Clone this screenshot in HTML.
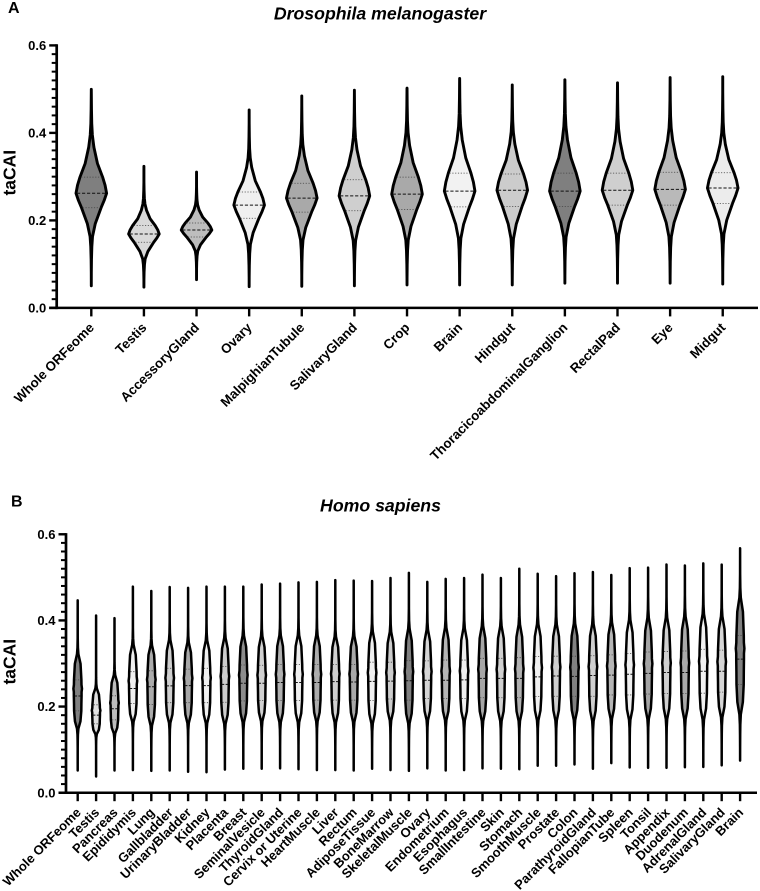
<!DOCTYPE html>
<html lang="en">
<head>
<meta charset="utf-8">
<title>taCAI violin plots</title>
<style>
html,body{margin:0;padding:0;background:#fff;}
svg{display:block;font-family:"Liberation Sans",Arial,sans-serif;}
</style>
</head>
<body>
<svg id="chart" xmlns="http://www.w3.org/2000/svg" width="760" height="891" viewBox="0 0 760 891">
  <rect x="0" y="0" width="760" height="891" fill="#fff"/>
  <text x="8" y="12.8" font-size="16" font-weight="700">A</text>
  <text x="380" y="19.3" font-size="17.7" font-weight="700" font-style="italic" text-anchor="middle">Drosophila melanogaster</text>
  <text x="11" y="506.5" font-size="16" font-weight="700">B</text>
  <text x="380.5" y="511.7" font-size="17.7" font-weight="700" font-style="italic" text-anchor="middle">Homo sapiens</text>
  <g id="panel-a"></g>
  <g id="panel-b"></g>
</svg>
<script>
/* ---------- Panel A data: Drosophila melanogaster ---------- */
const categoriesA = ["Whole ORFeome","Testis","AccessoryGland","Ovary","MalpighianTubule","SalivaryGland","Crop","Brain","Hindgut","ThoracicoabdominalGanglion","RectalPad","Eye","Midgut"];
const minsA    = [.048,.045,.062,.046,.047,.048,.050,.050,.050,.054,.054,.054,.052];
const q1sA     = [.229,.150,.162,.205,.219,.222,.225,.231,.232,.232,.235,.235,.239];
const mediansA = [.262,.169,.178,.235,.251,.256,.260,.267,.269,.267,.269,.271,.274];
const q3sA     = [.299,.188,.194,.265,.285,.293,.299,.308,.306,.308,.308,.310,.309];
const maxsA    = [.502,.326,.313,.455,.487,.500,.505,.527,.512,.521,.517,.529,.531];
const greysA   = ["#7f7f7f","#d9d9d9","#bdbdbd","#f0f0f0","#a9a9a9","#cfcfcf","#a9a9a9","#f2f2f2","#cccccc","#7f7f7f","#cfcfcf","#b9b9b9","#ececec"];

/* ---------- Panel B data: Homo sapiens ---------- */
const categoriesB = ["Whole ORFeome","Testis","Pancreas","Epididymis","Lung","Gallbladder","UrinaryBladder","Kidney","Placenta","Breast","SeminalVesicle","ThyroidGland","Cervix or Uterine","HeartMuscle","Liver","Rectum","AdiposeTissue","BoneMarrow","SkeletalMuscle","Ovary","Endometrium","Esophagus","SmallIntestine","Skin","Stomach","SmoothMuscle","Prostate","Colon","ParathyroidGland","FallopianTube","Spleen","Tonsil","Appendix","Duodenum","AdrenalGland","SalivaryGland","Brain"];
const minsB    = [.049,.035,.049,.050,.048,.049,.046,.045,.051,.053,.053,.054,.052,.050,.050,.049,.053,.050,.048,.054,.049,.050,.054,.053,.052,.060,.060,.063,.053,.066,.056,.055,.055,.0565,.057,.061,.072];
const q1sB     = [.190,.160,.169,.207,.205,.209,.209,.209,.210,.213,.214,.214,.214,.215,.215,.215,.214,.2175,.215,.219,.219,.219,.2205,.2205,.2206,.223,.224,.224,.224,.227,.227,.229,.230,.230,.231,.2335,.2515];
const mediansB = [.2245,.180,.195,.242,.246,.248,.2485,.2485,.2516,.254,.254,.256,.256,.256,.258,.257,.2585,.259,.260,.261,.261,.262,.2655,.2655,.2655,.269,.271,.270,.272,.273,.275,.277,.279,.279,.282,.282,.310];
const q3sB     = [.262,.204,.225,.281,.283,.289,.287,.289,.293,.2965,.296,.298,.298,.298,.298,.298,.303,.303,.3065,.306,.308,.308,.312,.312,.3135,.316,.317,.317,.318,.320,.3235,.3266,.328,.329,.333,.331,.365];
const maxsB    = [.449,.414,.408,.481,.471,.480,.478,.481,.481,.481,.486,.488,.491,.492,.496,.495,.494,.501,.513,.492,.499,.501,.509,.501,.5225,.511,.5055,.512,.515,.508,.524,.525,.5325,.530,.535,.532,.570];
const greysB   = ["#808080","#e0e0e0","#bdbdbd","#efefef","#ababab","#cfcfcf","#a8a8a8","#f0f0f0","#cdcdcd","#8c8c8c","#d0d0d0","#b0b0b0","#eeeeee","#acacac","#d0d0d0","#a8a8a8","#f0f0f0","#cccccc","#808080","#d5d5d5","#b5b5b5","#eeeeee","#a6a6a6","#d0d0d0","#b0b0b0","#f0f0f0","#cfcfcf","#808080","#cfcfcf","#b5b5b5","#f0f0f0","#a5a5a5","#d0d0d0","#aaaaaa","#f2f2f2","#d5d5d5","#808080"];

/* ---------- Density silhouettes (distance from median in quartile units -> relative density) ---------- */
const upperDistA  = [0,.5,1,1.85,2.85,3.6,4.3,5.2,6.2];
const upperDensA  = [1,.9,.74,.4,.17,.07,.03,.012,.002];
const lowerDistA  = [0,.5,1,2.1,3,3.7,4.6,5.5];
const lowerDensA  = [1,.84,.64,.26,.08,.035,.012,.002];
const upperDistB  = [0,.25,.45,.7,1,2,2.6,3,3.6];
const upperDensB  = [.9,.9,1,.88,.86,.66,.16,.05,.01];
const lowerDistB  = [0,.5,1,1.7,2.2,2.6,3,3.5];
const lowerDensB  = [.9,.86,.84,.64,.16,.05,.02,.004];

const tickValues = [0,.2,.4,.6];
const tickLabels = ["0.0","0.2","0.4","0.6"];
const minorStep = .02;

const NS = "http://www.w3.org/2000/svg";
function mk(parent, tag, attrs){
  const el = document.createElementNS(NS, tag);
  for (const k in attrs) el.setAttribute(k, attrs[k]);
  parent.appendChild(el);
  return el;
}
function interp(xs, ys, x){
  if (x <= xs[0]) return ys[0];
  for (let i = 1; i < xs.length; i++){
    if (x <= xs[i]) return ys[i-1] + (ys[i]-ys[i-1]) * (x-xs[i-1]) / (xs[i]-xs[i-1]);
  }
  return 0;
}
function drawPanel(root, p){
  const xOf = i => p.x0 + i * p.step;
  const yOf = v => p.yZero - v * p.yScale;

  const yAxis = mk(root, "line", {x1:p.axisX, x2:p.axisX, y1:yOf(.6)-1.2, y2:yOf(0)+1.2, stroke:"#000", "stroke-width":2.7});
  
  
  const xAxis = mk(root, "line", {x1:p.axisX-7.5, x2:p.axisEnd, y1:yOf(0), y2:yOf(0), stroke:"#000", "stroke-width":2.5});
  
  

  for (let k = 1; k < 30; k++){
    if (k % 10 === 0) continue;
    const t = mk(root, "line", {x1:p.axisX-5, x2:p.axisX, y1:yOf(k*minorStep), y2:yOf(k*minorStep), stroke:"#000", "stroke-width":2});
    
    
  }
  tickValues.forEach((v, k) => {
    const t = mk(root, "line", {x1:p.axisX-7.5, x2:p.axisX, y1:yOf(v), y2:yOf(v), stroke:"#000", "stroke-width":2.4});
    
    
    const l = mk(root, "text", {x:p.axisX-10.5, y:yOf(v)+4.6, "font-size":13, "font-weight":700, "text-anchor":"end"});
    l.textContent = tickLabels[k];
    
    
  });
  const title = mk(root, "text", {x:0, y:0, "font-size":17.5, "font-weight":700, "text-anchor":"middle",
    transform:"translate(" + p.ylabelX + "," + p.ylabelY + ") rotate(-90)"});
  title.textContent = "taCAI";
  
  

  p.categories.forEach((name, i) => {
    const cx = xOf(i);
    const tick = mk(root, "line", {x1:cx, x2:cx, y1:yOf(0), y2:yOf(0)+8.5, stroke:"#000", "stroke-width":2.4});
    
    
    const lab = mk(root, "text", {x:0, y:0, "font-size":p.labelSize, "font-weight":700, "text-anchor":"end",
      transform:"translate(" + (cx+p.labelDx) + "," + (yOf(0)+p.labelDy) + ") rotate(-45)"});
    lab.textContent = name;
    
    

    const med = p.medians[i], q1 = p.q1s[i], q3 = p.q3s[i], lo = p.mins[i], hi = p.maxs[i];
    const upUnit = q3 - med, loUnit = med - q1;
    const halfAt = v => p.peak * (v >= med
      ? interp(p.upperDist, p.upperDens, (v-med)/upUnit)
      : interp(p.lowerDist, p.lowerDens, (med-v)/loUnit));

    const right = [[cx, yOf(hi)+1.1]];
    for (let k = p.upperDist.length-1; k >= 0; k--){
      right.push([cx + p.peak*p.upperDens[k], yOf(med + p.upperDist[k]*upUnit)]);
    }
    for (let k = 1; k < p.lowerDist.length; k++){
      right.push([cx + p.peak*p.lowerDens[k], yOf(med - p.lowerDist[k]*loUnit)]);
    }
    right.push([cx, yOf(lo)-1.1]);
    const left = right.slice(1, -1).reverse().map(pt => [2*cx-pt[0], pt[1]]);
    const d = right.concat(left).map((pt, n) => (n ? "L" : "M") + pt[0].toFixed(2) + " " + pt[1].toFixed(2)).join(" ") + " Z";

    const g = mk(root, "g", {});
    
    
    const body = mk(g, "path", {d:d, fill:p.greys[i], stroke:"#000", "stroke-width":p.strokeW, "stroke-linejoin":"round"});
    
    

    const mw = Math.max(halfAt(med) - 1, 1);
    const mLine = mk(g, "line", {x1:cx-mw, x2:cx+mw, y1:yOf(med), y2:yOf(med), stroke:"#111", "stroke-width":1, "stroke-dasharray":p.medianDash});
    
    
    [q1, q3].forEach(q => {
      const w = Math.max(halfAt(q) - 1.2, 1);
      const qLine = mk(g, "line", {x1:cx-w, x2:cx+w, y1:yOf(q), y2:yOf(q), stroke:"#444", "stroke-width":.8, "stroke-dasharray":"1.2 1.6"});
      
      
    });
  });
}
drawPanel(document.getElementById("panel-a"), {
  categories:categoriesA, mins:minsA, q1s:q1sA, medians:mediansA, q3s:q3sA, maxs:maxsA, greys:greysA,
  upperDist:upperDistA, upperDens:upperDensA, lowerDist:lowerDistA, lowerDens:lowerDensA,
  x0:91.3, step:52.62, yZero:307.9, yScale:437.5, axisX:56.7, axisEnd:758,
  peak:15.3, strokeW:2.9, medianDash:"3.2 1.8", ylabelX:15.5, ylabelY:172.7,
  labelSize:13.3, labelDx:3.5, labelDy:20.5
});
drawPanel(document.getElementById("panel-b"), {
  categories:categoriesB, mins:minsB, q1s:q1sB, medians:mediansB, q3s:q3sB, maxs:maxsB, greys:greysB,
  upperDist:upperDistB, upperDens:upperDensB, lowerDist:lowerDistB, lowerDens:lowerDensB,
  x0:77.7, step:18.4, yZero:792.7, yScale:430.7, axisX:66, axisEnd:757,
  peak:4.3, strokeW:2.5, medianDash:"2.2 1.4", ylabelX:15.5, ylabelY:661.7,
  labelSize:13, labelDx:4, labelDy:20.5
});
</script>
</body>
</html>
